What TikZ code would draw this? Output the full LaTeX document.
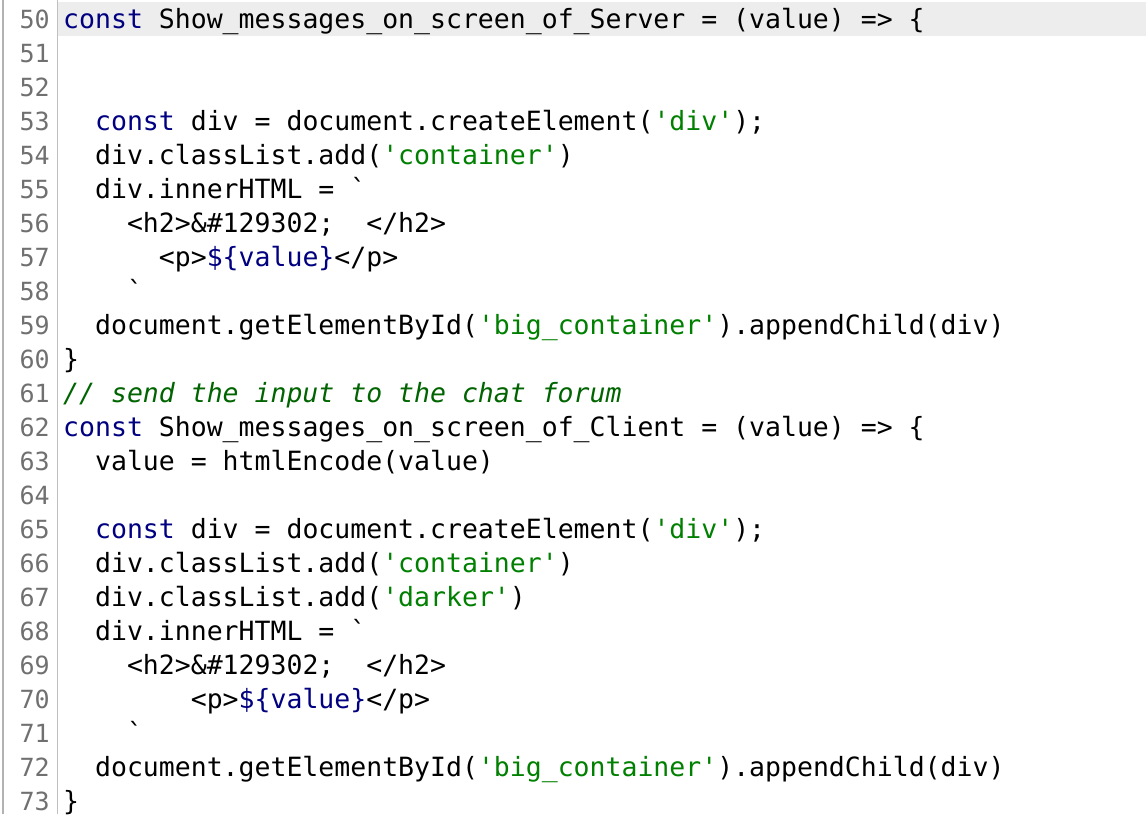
\documentclass[tikz,border=0pt]{standalone}
\usepackage{fontspec}
\setmonofont{DejaVu Sans Mono}
\usetikzlibrary{positioning}
\definecolor{kwblue}{HTML}{000080}
\definecolor{strgreen}{HTML}{008000}
\definecolor{cmtgreen}{HTML}{006400}
\definecolor{lnogray}{HTML}{707070}
\newcommand\kw[1]{\textcolor{kwblue}{#1}}
\newcommand\str[1]{\textcolor{strgreen}{#1}}
\newcommand\codeline[2]{%
  \node[lineno] (n#1) at (50pt,{-28pt-34pt*(#1-50)}) {#1};
  \node[codetext] (c#1) at (63pt,{-28pt-34pt*(#1-50)}) {#2};}
\begin{document}
\begin{tikzpicture}[x=1pt, y=1pt,
    lineno/.style={anchor=base east, inner sep=0pt, text=lnogray, font=\ttfamily\fontsize{25}{30}\selectfont},
    codetext/.style={anchor=base west, inner sep=0pt, font=\ttfamily\fontsize{26.5}{30}\selectfont}]
%
    \useasboundingbox (0,0) rectangle (1146,-814);
    \fill[white] (0,0) rectangle (1146,-814);
    \fill[black!7] (58,-2) rectangle (1146,-36);
    \draw[black!30, line width=1.5pt] (3,0) -- (3,-814);
    \draw[black!25, line width=1pt] (57,0) -- (57,-814);
%
    \codeline{50}{\kw{const} Show\_messages\_on\_screen\_of\_Server = (value) => \{}
    \codeline{51}{}
    \codeline{52}{}
    \codeline{53}{\ \ \kw{const} div = document.createElement(\str{'div'});}
    \codeline{54}{\ \ div.classList.add(\str{'container'})}
    \codeline{55}{\ \ div.innerHTML = `}
    \codeline{56}{\ \ \ \ <h2>\&\#129302;\ \ </h2>}
    \codeline{57}{\ \ \ \ \ \ <p>\kw{\$\{value\}}</p>}
    \codeline{58}{\ \ \ \ `}
    \codeline{59}{\ \ document.getElementById(\str{'big\_container'}).appendChild(div)}
    \codeline{60}{\}}
    \codeline{61}{\textcolor{cmtgreen}{\itshape // send the input to the chat forum}}
    \codeline{62}{\kw{const} Show\_messages\_on\_screen\_of\_Client = (value) => \{}
    \codeline{63}{\ \ value = htmlEncode(value)}
    \codeline{64}{}
    \codeline{65}{\ \ \kw{const} div = document.createElement(\str{'div'});}
    \codeline{66}{\ \ div.classList.add(\str{'container'})}
    \codeline{67}{\ \ div.classList.add(\str{'darker'})}
    \codeline{68}{\ \ div.innerHTML = `}
    \codeline{69}{\ \ \ \ <h2>\&\#129302;\ \ </h2>}
    \codeline{70}{\ \ \ \ \ \ \ \ <p>\kw{\$\{value\}}</p>}
    \codeline{71}{\ \ \ \ `}
    \codeline{72}{\ \ document.getElementById(\str{'big\_container'}).appendChild(div)}
    \codeline{73}{\}}
\end{tikzpicture}
\end{document}
